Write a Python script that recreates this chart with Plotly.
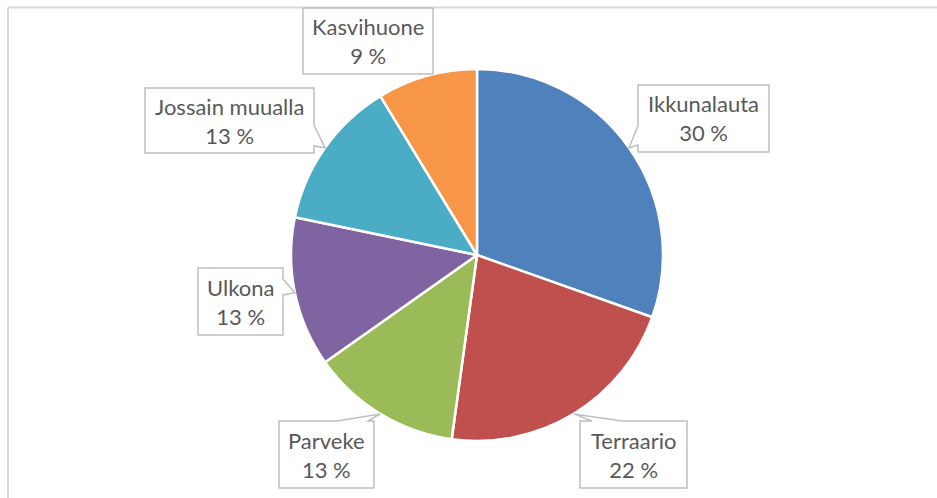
import math
import plotly.graph_objects as go

# ---- data ----
categories = ["Ikkunalauta", "Terraario", "Parveke", "Ulkona", "Jossain muualla", "Kasvihuone"]
counts = [7, 5, 3, 3, 3, 2]
colors = ["#4F81BD", "#C0504D", "#9BBB59", "#8064A2", "#4BACC6", "#F79646"]

W, H = 937, 498
CX, CY, R = 477, 255, 186  # pie centre / radius in pixels (layout)

# label boxes (pixels): left, top, right, bottom, pointer edge, pointer base range
boxes = {
    "Ikkunalauta": (638, 85, 769, 152, "left", (126, 145)),
    "Terraario": (580, 421, 687, 488, "top", (592, 622)),
    "Parveke": (279, 421, 374, 488, "top", (337, 368)),
    "Ulkona": (198, 268, 283, 335, "right", (279, 295)),
    "Jossain muualla": (145, 88, 314, 153, "right", (125, 146)),
    "Kasvihuone": (303, 8, 433, 74, None, None),
}


def X(px):
    return px / W


def Y(py):
    return 1 - py / H


total = sum(counts)
fig = go.Figure()
fig.add_trace(go.Pie(
    labels=categories,
    values=counts,
    sort=False,
    direction="clockwise",
    rotation=0,
    marker=dict(colors=colors, line=dict(color="white", width=2.5)),
    textinfo="none",
    hoverinfo="label+percent",
    showlegend=False,
    domain=dict(x=[X(CX - R), X(CX + R)], y=[Y(CY + R), Y(CY - R)]),
))

shapes = [
    dict(type="line", xref="paper", yref="paper", x0=X(8), x1=1.0, y0=Y(7.5), y1=Y(7.5),
         line=dict(color="#D9D9D9", width=2)),
    dict(type="line", xref="paper", yref="paper", x0=X(8), x1=X(8), y0=Y(7.5), y1=0,
         line=dict(color="#D9D9D9", width=2)),
]
annotations = []

cum = 0.0
for cat, v in zip(categories, counts):
    frac = v / total
    mid = cum + frac / 2
    cum += frac
    th = 2 * math.pi * mid
    tx, ty = CX + R * math.sin(th), CY - R * math.cos(th)
    l, t, r, b, side, base = boxes[cat]
    pts = [(l, t)]
    if side == "top":
        pts += [(base[0], t), (tx, ty), (base[1], t)]
    pts += [(r, t)]
    if side == "right":
        pts += [(r, base[0]), (tx, ty), (r, base[1])]
    pts += [(r, b)]
    if side == "bottom":
        pts += [(base[1], b), (tx, ty), (base[0], b)]
    pts += [(l, b)]
    if side == "left":
        pts += [(l, base[1]), (tx, ty), (l, base[0])]
    path = "M " + " L ".join(f"{X(px):.5f},{Y(py):.5f}" for px, py in pts) + " Z"
    shapes.append(dict(type="path", xref="paper", yref="paper", path=path,
                       fillcolor="white", line=dict(color="#BFBFBF", width=1.5), layer="above"))
    annotations.append(dict(
        x=X((l + r) / 2), y=Y((t + b) / 2), xref="paper", yref="paper",
        text=f"{cat}<br>{round(100 * frac)} %", showarrow=False,
        xanchor="center", yanchor="middle", align="center",
        font=dict(family="Lato", size=22, color="#595959"),
    ))

fig.update_layout(
    width=W, height=H,
    margin=dict(l=0, r=0, t=0, b=0),
    paper_bgcolor="white", plot_bgcolor="white",
    shapes=shapes, annotations=annotations,
)
fig.write_html("out.html", config={"displayModeBar": False},
               post_script="document.body.style.margin='0';")
